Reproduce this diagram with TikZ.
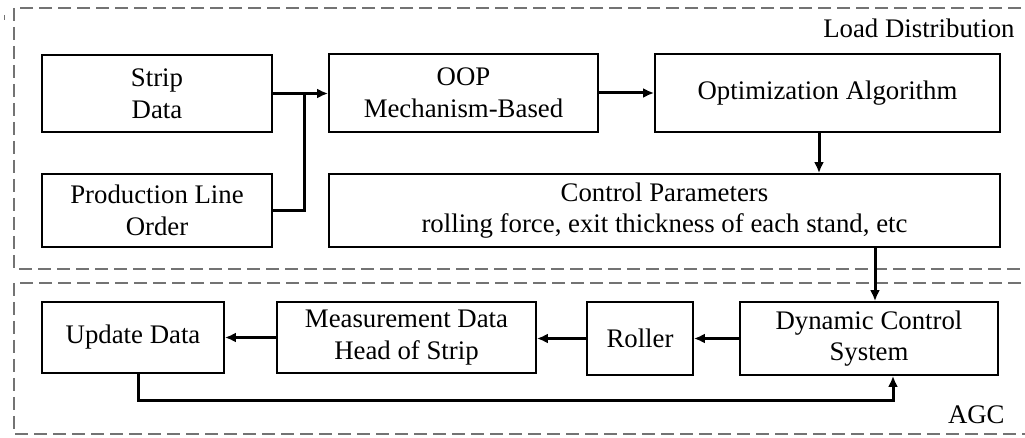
\documentclass[tikz,border=0pt]{standalone}
\usepackage{fontspec}
\setmainfont{Liberation Serif}
\usetikzlibrary{arrows.meta}
\begin{document}
\begin{tikzpicture}[x=0.5pt,y=-0.5pt,
  box/.style={draw, line width=0.9pt, rectangle, align=center, inner sep=0pt,
    font=\fontsize{13.4pt}{15.8pt}\selectfont},
  conn/.style={line width=1.5pt, -{Latex[length=5.5pt,width=5pt]}},
  plain/.style={line width=1.5pt},
  region/.style={draw=black!55, line width=0.8pt, dash pattern=on 6.5pt off 3pt},
  lbl/.style={font=\fontsize{13.4pt}{15.8pt}\selectfont, inner sep=0pt}]
\useasboundingbox (0,0) rectangle (1025,438);
\clip (0,0) rectangle (1025,438);
% regions
\draw[region] (1040,8) -- (14,8) -- (14,269) -- (1040,269);
\draw[region] (1040,283) -- (14,283) -- (14,434) -- (1040,434);
\draw[draw=black!55, line width=0.8pt] (4.5,15) -- (4.5,20);
\node[lbl, anchor=base east] (ld) at (1015,38) {Load Distribution};
\node[lbl, anchor=base east] (agc) at (1005,424) {AGC};
% nodes
\node[box, minimum width=115pt, minimum height=38.5pt] (strip) at (157,93.5) {Strip\\Data};
\node[box, minimum width=115pt, minimum height=36.5pt] (prod) at (157,210.5) {Production Line\\Order};
\node[box, minimum width=134.5pt, minimum height=39pt] (oop) at (463.5,93) {OOP\\Mechanism-Based};
\node[box, minimum width=172.5pt, minimum height=39pt] (opt) at (827.5,93) {Optimization Algorithm};
\node[box, minimum width=335.5pt, minimum height=36.5pt] (ctrl) at (664.5,210.5) {Control Parameters\\rolling force, exit thickness of each stand, etc};
\node[box, minimum width=91pt, minimum height=35.5pt] (upd) at (133,337.5) {Update Data};
\node[box, minimum width=129.5pt, minimum height=35.5pt] (meas) at (406.5,337.5) {Measurement Data\\Head of Strip};
\node[box, minimum width=53pt, minimum height=36.5pt] (roll) at (640,338.5) {Roller};
\node[box, minimum width=129pt, minimum height=36.5pt] (dyn) at (869,338.5) {Dynamic Control\\System};
% helper coordinates
\coordinate (j) at (304,93.5);
\coordinate (c1) at (819,0);
\coordinate (c2) at (875,0);
\coordinate (c3) at (138,0);
\coordinate (c4) at (893,0);
\coordinate (low) at (0,401);
% connectors
\draw[conn] (strip.east) -- (oop.west |- strip.east);
\draw[plain] (prod.east) -| (j);
\draw[conn] (oop.east) -- (opt.west);
\draw[conn] (opt.south -| c1) -- (ctrl.north -| c1);
\draw[conn] (ctrl.south -| c2) -- (dyn.north -| c2);
\draw[conn] (dyn.west) -- (roll.east |- dyn.west);
\draw[conn] (roll.west) -- (meas.east |- roll.west);
\draw[conn] (meas.west) -- (upd.east |- meas.west);
\draw[conn] (upd.south -| c3) -- (c3 |- low) -- (c4 |- low) -- (dyn.south -| c4);
\end{tikzpicture}
\end{document}
